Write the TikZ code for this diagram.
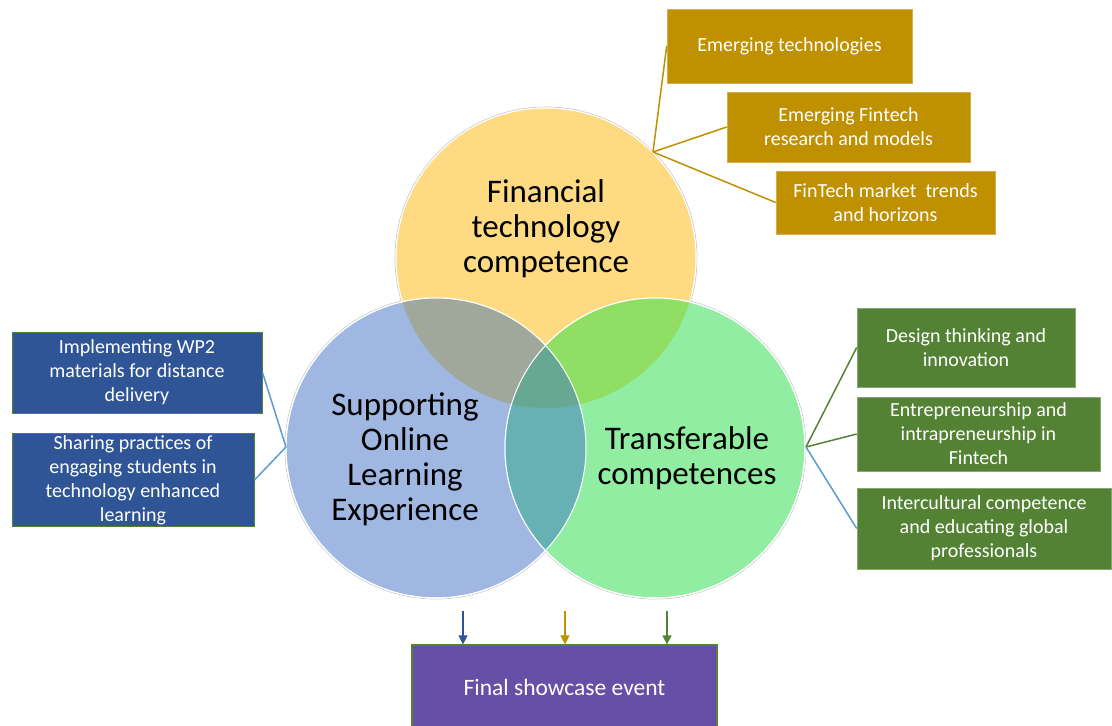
\documentclass[tikz,border=0pt]{standalone}
\usepackage{fontspec}
\setmainfont{Carlito}
\usetikzlibrary{arrows.meta}
\definecolor{cY}{HTML}{FEDB82}
\definecolor{cB}{HTML}{A0B8E1}
\definecolor{cG}{HTML}{91EDA2}
\definecolor{cYB}{HTML}{A0A79B}
\definecolor{cYG}{HTML}{90DE64}
\definecolor{cBG}{HTML}{67B0B3}
\definecolor{cYBG}{HTML}{67A892}
\definecolor{gold}{HTML}{BF9000}
\definecolor{dblue}{HTML}{2F5597}
\definecolor{dgreen}{HTML}{548235}
\definecolor{purp}{HTML}{674EA7}
\definecolor{lblue}{HTML}{5B9BD5}
\tikzset{
  venn/.style={circle, minimum size=300pt, inner sep=0pt, draw=white, line width=1pt},
  vlabel/.style={align=center, text=black, font=\fontsize{33}{35}\selectfont},
  boxbase/.style={rectangle, inner sep=2pt, align=center, text=white, font=\fontsize{20}{24}\selectfont},
  goldbox/.style={boxbase, fill=gold, draw=gold!70!white, line width=0.6pt},
  bluebox/.style={boxbase, fill=dblue, draw=dgreen, line width=1pt},
  greenbox/.style={boxbase, fill=dgreen, draw=dgreen!70!white, line width=0.6pt},
  purpbox/.style={boxbase, fill=purp, draw=dgreen, line width=1.2pt, font=\fontsize{23.5}{26}\selectfont},
  goldline/.style={draw=gold, line width=1.5pt},
  blueline/.style={draw=lblue, line width=1.5pt},
  greenline/.style={draw=dgreen, line width=1.5pt},
  arr/.style={line width=1.3pt, -{Triangle[width=9pt,length=9pt]}}
}
\begin{document}
\begin{tikzpicture}[x=1pt,y=-1pt]
\useasboundingbox (0,0) rectangle (1112,726);
% circles
\draw[gray!40, line width=0.8pt] (546,258) circle[radius=151pt];
\draw[gray!40, line width=0.8pt] (436,448) circle[radius=151pt];
\draw[gray!40, line width=0.8pt] (655,448) circle[radius=151pt];
\node[venn, fill=cY] (Y) at (546,258) {};
\node[venn, fill=cB] (B) at (436,448) {};
\node[venn, fill=cG] (G) at (655,448) {};
% intersections
\begin{scope}
  \clip (546,258) circle[radius=150pt];
  \fill[cYB] (436,448) circle[radius=150pt];
  \fill[cYG] (655,448) circle[radius=150pt];
\end{scope}
\begin{scope}
  \clip (436,448) circle[radius=150pt];
  \fill[cBG] (655,448) circle[radius=150pt];
  \clip (655,448) circle[radius=150pt];
  \fill[cYBG] (546,258) circle[radius=150pt];
\end{scope}
\draw[white, line width=1pt] (436,448) circle[radius=150pt];
\draw[white, line width=1pt] (655,448) circle[radius=150pt];
% circle labels
\node[vlabel] (YL) at (546,229) {Financial\\technology\\competence};
\node[vlabel] (BL) at (405,459) {Supporting\\Online\\Learning\\Experience};
\node[vlabel] (GL) at (687,458) {Transferable\\competences};
% hubs
\coordinate (yh) at (653,152);
\coordinate (bh) at (286,447);
\coordinate (gh) at (806,447);
% gold boxes
\node[goldbox, minimum width=245pt, minimum height=74pt] (Y1) at (789.5,46) {Emerging technologies};
\node[goldbox, minimum width=243pt, minimum height=70pt] (Y2) at (848.5,127) {Emerging Fintech\\research and models};
\node[goldbox, minimum width=219pt, minimum height=63pt] (Y3) at (885.5,202.5) {FinTech market\ \ trends\\and horizons};
% blue boxes
\node[bluebox, minimum width=250pt, minimum height=81pt] (L1) at (137,372.5) {Implementing WP2\\materials for distance\\delivery};
\node[bluebox, minimum width=242pt, minimum height=92pt] (L2) at (133,480) {Sharing practices of\\engaging students in\\technology enhanced\\learning};
% green boxes
\node[greenbox, minimum width=218pt, minimum height=79pt] (R1) at (966,347.5) {Design thinking and\\innovation};
\node[greenbox, minimum width=243pt, minimum height=74pt] (R2) at (978.5,434) {Entrepreneurship and\\intrapreneurship in\\Fintech};
\node[greenbox, minimum width=254pt, minimum height=81pt] (R3) at (984,528.5) {Intercultural competence\\and educating global\\professionals};
% final box
\node[purpbox, minimum width=305pt, minimum height=84pt] (F) at (564.5,687) {Final showcase event};
% connectors
\draw[goldline] (yh) -- (Y1.west);
\draw[goldline] (yh) -- (Y2.west);
\draw[goldline] (yh) -- (Y3.west);
\draw[blueline] (bh) -- (L1.east);
\draw[blueline] (bh) -- (L2.east);
\draw[greenline] (gh) -- (R1.west);
\draw[greenline] (gh) -- (R2.west);
\draw[blueline] (gh) -- (R3.west);
% arrows
\coordinate (a1) at (463,611);
\coordinate (a2) at (565,611);
\coordinate (a3) at (667,611);
\draw[arr, dblue] (a1) -- (a1 |- F.north);
\draw[arr, gold] (a2) -- (a2 |- F.north);
\draw[arr, dgreen] (a3) -- (a3 |- F.north);
\end{tikzpicture}
\end{document}
